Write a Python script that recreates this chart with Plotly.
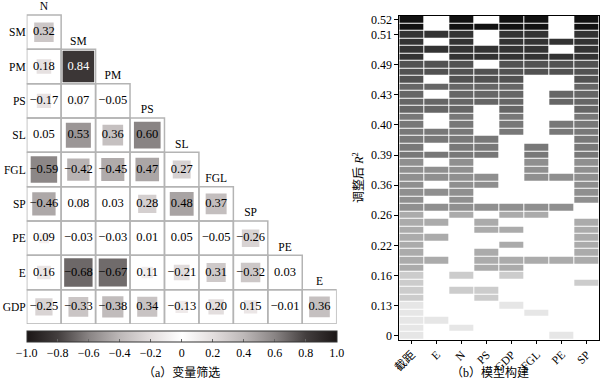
import math
import plotly.graph_objects as go

# ---------------- Panel (a): correlation matrix ----------------
row_vars = ["SM", "PM", "PS", "SL", "FGL", "SP", "PE", "E", "GDP"]
col_vars = ["N", "SM", "PM", "PS", "SL", "FGL", "SP", "PE", "E"]
corr_rows = [
    [0.32],
    [0.18, 0.84],
    [-0.17, 0.07, -0.05],
    [0.05, 0.53, 0.36, 0.60],
    [-0.59, -0.42, -0.45, 0.47, 0.27],
    [-0.46, 0.08, 0.03, 0.28, 0.48, 0.37],
    [0.09, -0.03, -0.03, 0.01, 0.05, -0.05, -0.26],
    [0.16, -0.68, -0.67, 0.11, -0.21, 0.31, -0.32, 0.03],
    [-0.25, -0.33, -0.38, 0.34, -0.13, 0.20, 0.15, -0.01, 0.36],
]
cbar_tickvals = [-1.0, -0.8, -0.6, -0.4, -0.2, 0.0, 0.2, 0.4, 0.6, 0.8, 1.0]
cbar_ticktext = ["−1.0", "−0.8", "−0.6", "−0.4", "−0.2", "0", "0.2", "0.4", "0.6", "0.8", "1.0"]

# ---------------- Panel (b): best-subset models ----------------
model_vars = ["截距", "E", "N", "PS", "GDP", "FGL", "PE", "SP"]
# one string per model, bottom row first; '1' = variable included
models = [
    "10000010", "10100000", "11000000", "10000100", "10001000",
    "10010000", "10110000", "10000001", "10101000", "10011000",
    "11011111", "10010001", "10001001", "11000001", "10011001",
    "11010001", "10101100", "11111110", "10100001", "11100001",
    "10110001", "11110111", "11100101", "10100101", "11110101",
    "10110101", "11110001", "11101011", "10101011", "10101001",
    "11101001", "11111011", "10111011", "11111001", "10111001",
    "11111111", "11101111", "10111111", "11111101", "10101111",
    "11101101", "10111101", "10101101",
]
# grey shade of each model row (0 = black, 1 = white), bottom row first
model_shade = (
    [0.90] * 5 + [0.80] * 4 + [0.67] * 8 + [0.56] * 7 +
    [0.47] * 6 + [0.40] * 4 + [0.32] * 3 + [0.20] * 4 + [0.07] * 2
)
adjr2_tick_rows = [1, 5, 9, 13, 17, 21, 25, 29, 33, 37, 41, 43]
adjr2_tick_text = ["0", "0.13", "0.16", "0.22", "0.26", "0.36",
                   "0.39", "0.40", "0.43", "0.49", "0.51", "0.52"]

# ---------------- styling helpers ----------------
W, H = 600, 379
SERIF = "Liberation Serif, Times New Roman, serif"
CJK = "Liberation Serif, Noto Sans CJK SC, serif"

# |r| -> grey level stops (slightly warm grey)
grey_stops = [(0.0, 255), (0.2, 222), (0.4, 184), (0.6, 132), (0.8, 62), (1.0, 22)]


def grey_for(a):
    a = min(abs(a), 1.0)
    g = grey_stops[-1][1]
    for (x0, g0), (x1, g1) in zip(grey_stops[:-1], grey_stops[1:]):
        if a <= x1:
            g = g0 + (g1 - g0) * (a - x0) / (x1 - x0)
            break
    g = int(round(g))
    return "rgb(%d,%d,%d)" % (min(255, g + 5), g, g)


colorscale = [[(v + 1) / 2, grey_for(v)] for v in cbar_tickvals]

# panel (a) geometry (pixels)
A_LEFT, A_RIGHT = 26.7, 336.7
A_TOP_CELL, A_BOTTOM = 15.0, 324.0
cell_h = (A_BOTTOM - A_TOP_CELL) / len(row_vars)
y_top_val = 0.07
a_top_px = A_TOP_CELL - (0.5 - y_top_val) * cell_h

fig = go.Figure()

shapes = []
tx, ty, tt, tc, cr = [], [], [], [], []
for i, row in enumerate(corr_rows, start=1):
    for j, r in enumerate(row, start=1):
        shapes.append(dict(type="rect", xref="x", yref="y",
                           x0=j - 0.5, x1=j + 0.5, y0=i - 0.5, y1=i + 0.5,
                           line=dict(color="#b4b4b4", width=1.5),
                           fillcolor="rgba(0,0,0,0)", layer="below"))
        s = math.sqrt(abs(r)) / 2
        shapes.append(dict(type="rect", xref="x", yref="y",
                           x0=j - s, x1=j + s, y0=i - s, y1=i + s,
                           line=dict(width=0), fillcolor=grey_for(r), layer="below"))
        tx.append(j)
        ty.append(i)
        tt.append(("%.2f" % r).replace("-", "−"))
        tc.append("white" if abs(r) >= 0.8 else "black")
        cr.append(r)

fig.add_trace(go.Scatter(
    x=tx, y=ty, mode="markers",
    marker=dict(size=2, color=cr, cmin=-1, cmax=1, colorscale=colorscale, opacity=0,
                showscale=True,
                colorbar=dict(orientation="h", x=(A_LEFT + A_RIGHT) / 2 / W, xanchor="center",
                              y=1 - 330.5 / H, yanchor="top",
                              lenmode="pixels", len=A_RIGHT - A_LEFT, thickness=11,
                              xpad=0, ypad=0,
                              outlinewidth=1, outlinecolor="#333333",
                              tickvals=cbar_tickvals, ticktext=cbar_ticktext,
                              ticks="inside", ticklen=3, tickcolor="#666666",
                              tickfont=dict(family=SERIF, size=12, color="black"))),
    hoverinfo="skip", xaxis="x", yaxis="y"))

fig.add_trace(go.Scatter(
    x=tx, y=ty, mode="text", text=tt,
    textfont=dict(family=SERIF, size=12.5, color=tc),
    hoverinfo="skip", xaxis="x", yaxis="y"))

# staircase column labels
fig.add_trace(go.Scatter(
    x=list(range(1, len(col_vars) + 1)),
    y=[j - 0.5 - 0.22 for j in range(1, len(col_vars) + 1)],
    mode="text", text=col_vars,
    textfont=dict(family=SERIF, size=11.5, color="black"),
    cliponaxis=False, hoverinfo="skip", xaxis="x", yaxis="y"))

# ---------------- panel (b) heatmap ----------------
z = []
for k, m in enumerate(models):
    z.append([model_shade[k] if ch == "1" else None for ch in m])

fig.add_trace(go.Heatmap(
    x=model_vars, y=list(range(1, len(models) + 1)), z=z,
    colorscale=[[0, "#000000"], [1, "#ffffff"]], zmin=0, zmax=1,
    showscale=False, xgap=1, ygap=1, hoverinfo="skip",
    xaxis="x2", yaxis="y2"))

fig.update_layout(
    width=W, height=H,
    margin=dict(l=0, r=0, t=0, b=0, autoexpand=False),
    paper_bgcolor="white", plot_bgcolor="white",
    showlegend=False,
    shapes=shapes,
    xaxis=dict(domain=[A_LEFT / W, A_RIGHT / W], range=[0.5, 9.5],
               showgrid=False, zeroline=False, showticklabels=False,
               showline=False, ticks=""),
    yaxis=dict(domain=[1 - A_BOTTOM / H, 1 - a_top_px / H], range=[9.5, y_top_val],
               showgrid=False, zeroline=False, showline=False, ticks="",
               tickvals=list(range(1, len(row_vars) + 1)), ticktext=row_vars,
               tickfont=dict(family=SERIF, size=11.5, color="black")),
    xaxis2=dict(domain=[399.3 / W, 599.3 / W], anchor="y2",
                type="category", categoryorder="array", categoryarray=model_vars,
                range=[-0.5, len(model_vars) - 0.5],
                showgrid=False, zeroline=False,
                showline=True, linecolor="black", linewidth=1, mirror=True,
                ticks="outside", ticklen=3, tickcolor="black", tickangle=-45,
                tickfont=dict(family=CJK, size=11.5, color="black")),
    yaxis2=dict(domain=[1 - 339.5 / H, 1 - 15.7 / H], anchor="x2",
                range=[0.5, len(models) + 0.5],
                showgrid=False, zeroline=False,
                showline=True, linecolor="black", linewidth=1, mirror=True,
                ticks="outside", ticklen=4, tickcolor="black",
                tickvals=adjr2_tick_rows, ticktext=adjr2_tick_text,
                tickfont=dict(family=SERIF, size=12, color="black"),
                title=dict(text="调整后 <i>R</i><sup>2</sup>", standoff=4,
                           font=dict(family=CJK, size=12, color="black"))),
    annotations=[
        dict(text="（a）变量筛选", x=181 / W, y=1 - 372 / H, xref="paper", yref="paper",
             xanchor="center", yanchor="middle",
             showarrow=False, font=dict(family=CJK, size=12, color="black")),
        dict(text="（b）模型构建", x=490 / W, y=1 - 372 / H, xref="paper", yref="paper",
             xanchor="center", yanchor="middle",
             showarrow=False, font=dict(family=CJK, size=12, color="black")),
    ],
)

fig.write_html(
    "out.html",
    config={"displayModeBar": False},
    post_script="document.body.style.margin='0';document.body.style.overflow='hidden';",
)
